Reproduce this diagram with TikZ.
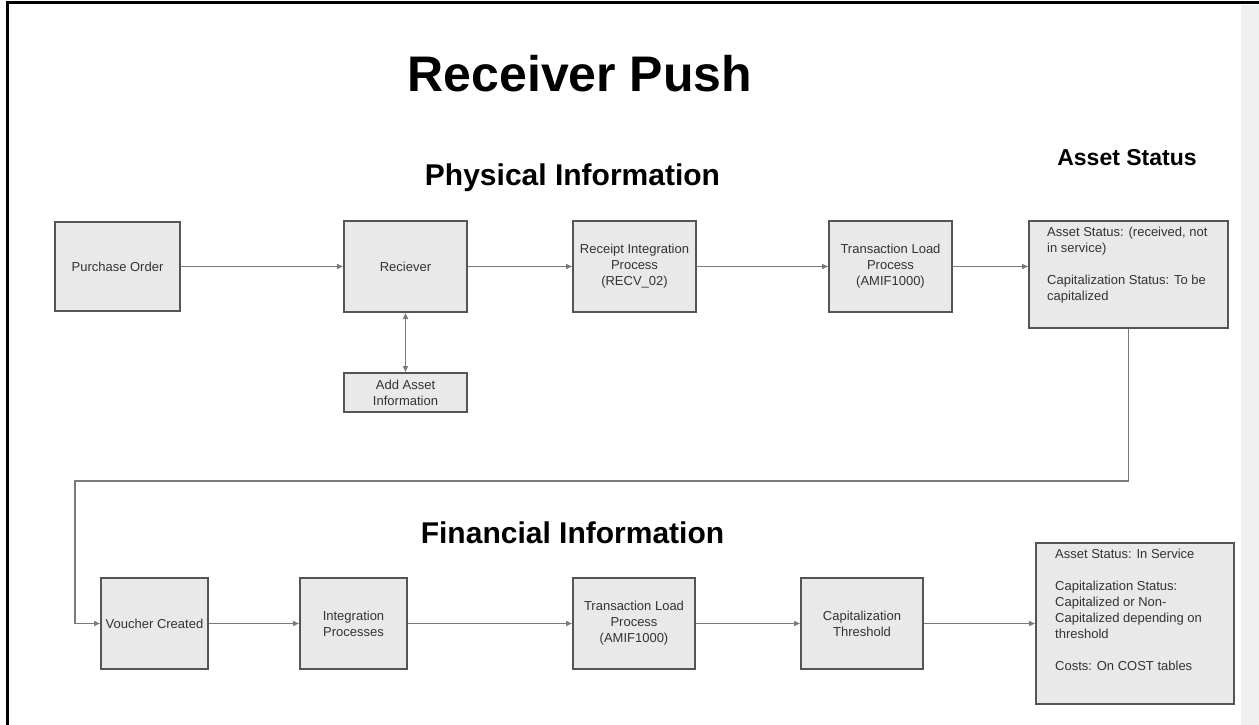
\documentclass[tikz,border=0pt]{standalone}
\usepackage{fontspec}
\setmainfont{Liberation Sans}
\usetikzlibrary{arrows.meta}
\definecolor{boxfill}{HTML}{E9E9E9}
\definecolor{boxline}{HTML}{555555}
\definecolor{conn}{HTML}{7A7A7A}
\definecolor{txt}{HTML}{333333}
\definecolor{strip}{HTML}{EFEFEF}
\tikzset{
  procbox/.style={draw=boxline, line width=2pt, fill=boxfill, inner sep=0pt, align=center,
    text=txt, font=\fontsize{13}{16}\selectfont},
  boxtext/.style={inner sep=0pt, align=left, anchor=north west, text=txt,
    font=\fontsize{13}{16}\selectfont},
  flow/.style={draw=conn, line width=1.4pt, -{Triangle[length=6pt,width=5pt]}},
  flowboth/.style={draw=conn, line width=1.4pt, {Triangle[length=6pt,width=5pt]}-{Triangle[length=6pt,width=5pt]}},
  bigtitle/.style={inner sep=0pt, anchor=base, font=\fontsize{50}{60}\selectfont\bfseries},
  midtitle/.style={inner sep=0pt, anchor=base, font=\fontsize{30}{36}\selectfont\bfseries},
  smalltitle/.style={inner sep=0pt, anchor=base, font=\fontsize{23}{28}\selectfont\bfseries}
}
\begin{document}
\begin{tikzpicture}[x=1pt,y=-1pt]
\useasboundingbox (0,0) rectangle (1259,725);
\fill[white] (0,0) rectangle (1259,725);
% frame and side strip
\fill[strip] (1241,5) rectangle (1259,725);
\draw[black, line width=3pt] (7.5,725) -- (7.5,2.5) -- (1259,2.5);

% titles
\node[bigtitle] (t1) at (580,92) {Receiver Push};
\node[midtitle] (t2) at (572.5,185) {Physical Information};
\node[smalltitle] (t3) at (1127,165) {Asset Status};
\node[midtitle] (t4) at (572.5,543) {Financial Information};

% top row
\node[procbox, minimum width=125pt, minimum height=89pt] (po) at (117.5,266.5) {Purchase Order};
\node[procbox, minimum width=123pt, minimum height=91pt] (rcv) at (405.5,266.5) {Reciever};
\node[procbox, minimum width=123pt, minimum height=91pt] (rip) at (634.5,266.5) {Receipt Integration\\Process\\(RECV\_02)};
\node[procbox, minimum width=123pt, minimum height=91pt] (tl1) at (890.5,266.5) {Transaction Load\\Process\\(AMIF1000)};
\node[procbox, minimum width=199pt, minimum height=107pt] (as1) at (1128.5,274.5) {};
\node[boxtext] (as1t) at (1047,226.5) {Asset Status: (received, not\\in service)\\[16pt]Capitalization Status: To be\\capitalized};
\node[procbox, minimum width=123pt, minimum height=39pt] (aai) at (405.5,392.5) {Add Asset\\Information};

% bottom row
\node[procbox, minimum width=107pt, minimum height=91pt] (vc) at (154.5,623.5) {Voucher Created};
\node[procbox, minimum width=107pt, minimum height=91pt] (ip) at (353.5,623.5) {Integration\\Processes};
\node[procbox, minimum width=122pt, minimum height=91pt] (tl2) at (634,623.5) {Transaction Load\\Process\\(AMIF1000)};
\node[procbox, minimum width=122pt, minimum height=91pt] (ct) at (862,623.5) {Capitalization\\Threshold};
\node[procbox, minimum width=198pt, minimum height=161pt] (as2) at (1135,623.5) {};
\node[boxtext] (as2t) at (1055,548.5) {Asset Status: In Service\\[16pt]Capitalization Status:\\Capitalized or Non-\\Capitalized depending on\\threshold\\[16pt]Costs: On COST tables};

% connectors
\coordinate (c1) at (1128.5,481);
\coordinate (c2) at (75,481);
\coordinate (c3) at (75,623.5);
\draw[flow] (po) -- (rcv);
\draw[flow] (rcv) -- (rip);
\draw[flow] (rip) -- (tl1);
\draw[flow] (tl1) -- (tl1.east -| as1.west);
\draw[flowboth] (rcv.south) -- (aai.north);
\draw[flow] (as1.south) -- (c1) -- (c2) -- (c3) -- (vc.west);
\draw[flow] (vc) -- (ip);
\draw[flow] (ip) -- (tl2);
\draw[flow] (tl2) -- (ct);
\draw[flow] (ct) -- (as2);
\end{tikzpicture}
\end{document}
